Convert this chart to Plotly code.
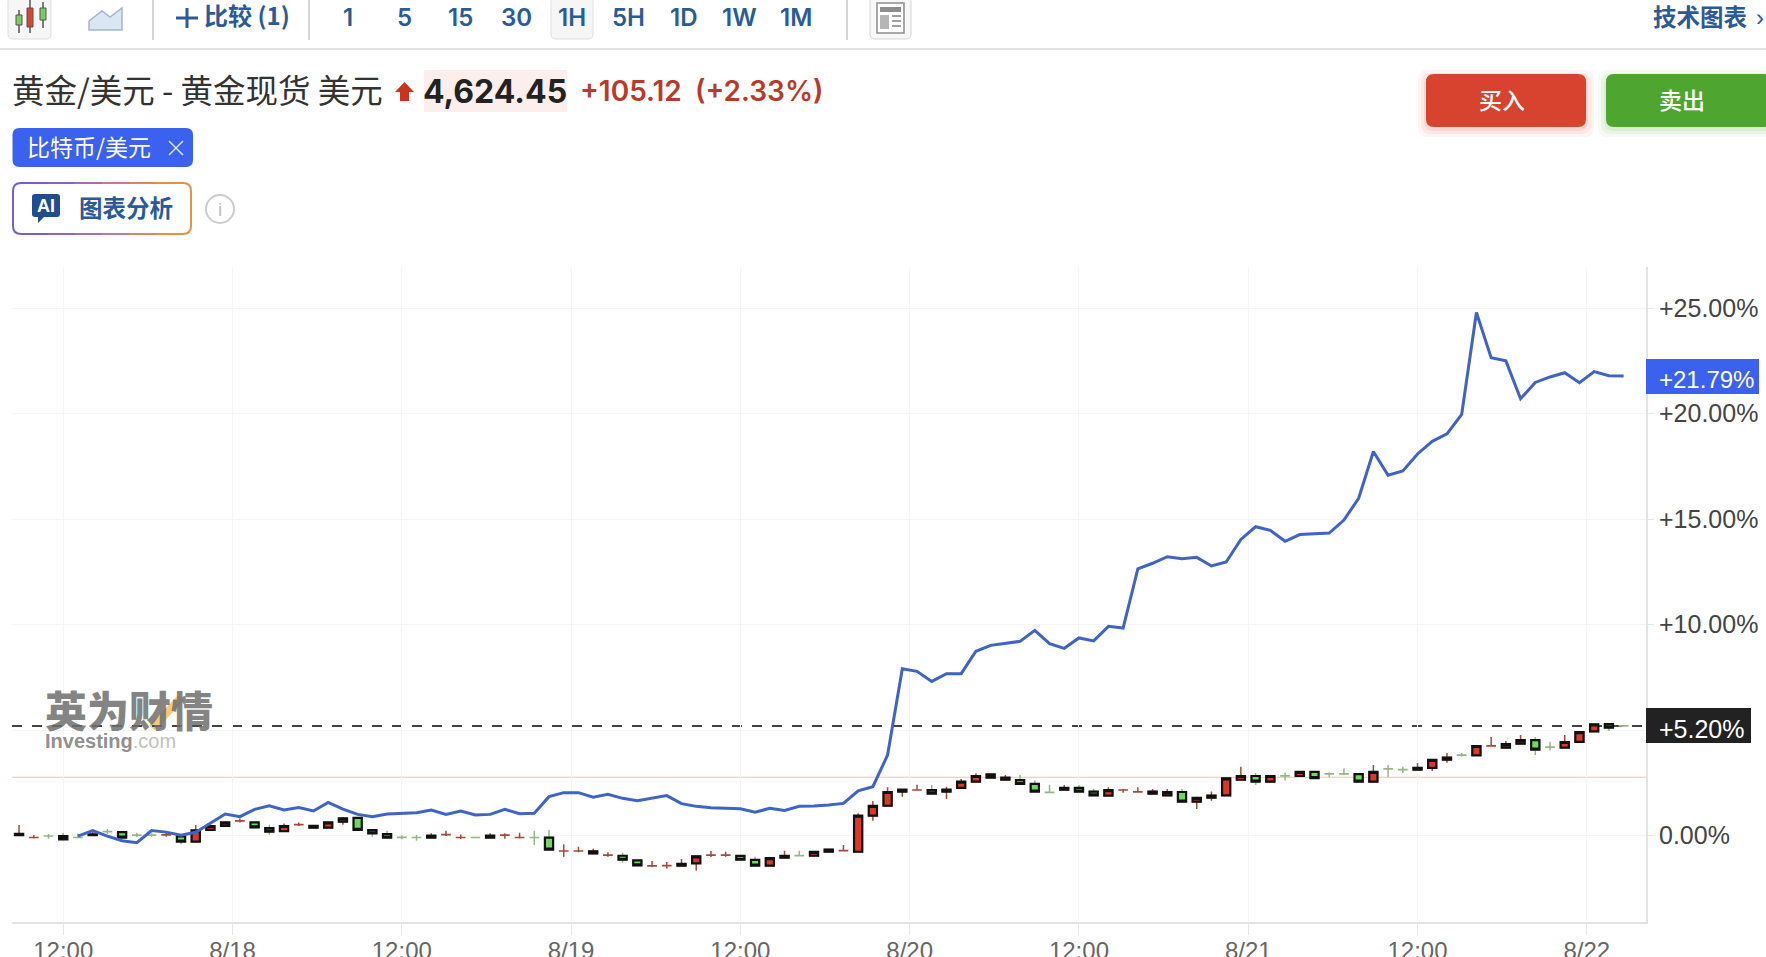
# Gold vs bitcoin 1H percent chart, with the page header around it
import plotly.graph_objects as go

W = 1766
H = 957

# gold candles in percent, one row per 10 bars
gold_open = [
    .03, -.09, -.01, -.02, -.08, .02, .20, .17, .03, .03,
    .03, -.03, -.28, .28, .47, .70, .63, .36, .21, .52,
    .38, .38, .66, .84, .27, .08, -.07, -.08, -.09, .05,
    -.09, -.08, -.09, .02, -.09, -.08, -.09, -.73, -.73, -.84,
    -.93, -.95, -1.17, -1.44, -1.42, -1.42, -1.31, -.93, -.93, -.96,
    -1.15, -1.42, -1.04, -.94, -.95, -.76, -.71, -.76, .95, 1.42,
    2.09, 2.16, 2.16, 2.09, 2.27, 2.56, 2.91, 2.65, 2.64, 2.46,
    2.06, 2.18, 2.27, 2.09, 1.90, 2.16, 2.07, 1.99, 1.91, 2.07,
    1.61, 1.80, 1.91, 2.65, 2.83, 2.56, 2.84, 2.83, 3.02, 2.93,
    2.93, 2.92, 2.56, 3.17, 3.14, 3.13, 3.21, 3.60, 3.82, 3.81,
    4.25, 4.17, 4.36, 4.53, 4.20, 4.17, 4.45, 4.94, 5.29, 5.21,
]
gold_high = [
    .51, .03, .08, .13, .10, .24, .32, .22, .14, .11,
    .21, .06, .51, .50, .68, .82, .65, .52, .58, .62,
    .50, .66, .88, .88, .30, .24, .02, .03, .11, .24,
    .06, -.07, .11, .11, .14, .24, .27, -.41, -.52, -.62,
    -.79, -.81, -1.14, -1.20, -1.25, -1.11, -.93, -.73, -.76, -.93,
    -1.00, -1.02, -.71, -.71, -.75, -.63, -.44, 1.06, 1.64, 2.29,
    2.20, 2.42, 2.40, 2.32, 2.69, 2.95, 2.93, 2.88, 2.88, 2.61,
    2.42, 2.40, 2.40, 2.21, 2.29, 2.21, 2.29, 2.21, 2.21, 2.21,
    1.84, 2.10, 2.75, 3.27, 2.97, 2.85, 3.00, 3.05, 3.05, 3.00,
    3.18, 2.95, 3.35, 3.35, 3.27, 3.44, 3.62, 3.92, 3.92, 4.27,
    4.68, 4.49, 4.77, 4.68, 4.45, 4.77, 4.93, 5.30, 5.32, 5.22,
]
gold_low = [
    .03, -.13, -.14, -.22, -.09, .02, .08, -.14, -.06, -.05,
    -.05, -.41, -.33, .25, .43, .62, .35, .05, .19, .46,
    .36, .36, .52, .25, -.05, -.14, -.17, -.24, -.09, -.02,
    -.16, -.10, -.09, -.14, -.13, -.44, -.71, -1.00, -.79, -.84,
    -1.00, -1.28, -1.45, -1.49, -1.55, -1.42, -1.66, -1.01, -1.00, -1.14,
    -1.44, -1.44, -1.05, -.95, -.95, -.76, -.71, -.76, .71, 1.42,
    1.85, 2.14, 1.96, 1.74, 2.25, 2.54, 2.72, 2.65, 2.43, 2.07,
    2.05, 2.18, 2.07, 1.89, 1.88, 2.04, 2.05, 1.99, 1.90, 1.59,
    1.26, 1.66, 1.90, 2.63, 2.40, 2.54, 2.61, 2.81, 2.70, 2.78,
    2.86, 2.54, 2.54, 2.78, 2.97, 3.13, 3.06, 3.46, 3.74, 3.79,
    4.23, 4.15, 4.34, 3.82, 4.04, 4.15, 4.43, 4.92, 4.96, 5.18,
]
gold_close = [
    .09, -.08, -.02, -.17, -.09, .06, .19, -.09, .02, .02,
    .04, -.28, .25, .46, .63, .71, .39, .19, .46, .53,
    .47, .63, .82, .28, .11, -.09, -.08, -.09, 0, .06,
    -.08, -.09, 0, .03, -.08, -.09, -.66, -.72, -.72, -.74,
    -.92, -1.14, -1.41, -1.43, -1.41, -1.33, -.98, -.92, -.92, -1.14,
    -1.42, -1.06, -.95, -.95, -.77, -.66, -.70, .95, 1.41, 2.07,
    2.18, 2.17, 1.99, 2.18, 2.56, 2.83, 2.75, 2.75, 2.46, 2.09,
    2.05, 2.27, 2.09, 1.91, 2.16, 2.17, 2.08, 2.09, 2.07, 1.61,
    1.79, 1.90, 2.72, 2.83, 2.56, 2.83, 2.83, 3.02, 2.73, 2.92,
    2.92, 2.56, 3.02, 3.16, 3.13, 3.22, 3.59, 3.70, 3.81, 4.25,
    4.26, 4.34, 4.53, 4.08, 4.19, 4.44, 4.91, 5.28, 5.12, 5.20,
]

# bitcoin line, it starts at the fifth bar
btc_pct = [
    None, None, None, None, -.02, .24, -.02, -.24, -.33, .24,
    .17, .02, .16, .58, 1.03, .90, 1.25, 1.42, 1.22, 1.34,
    1.17, 1.58, 1.26, 1.01, .90, 1.03, 1.06, 1.09, 1.22, 1.01,
    1.17, .98, 1.01, 1.25, 1.04, 1.06, 1.85, 2.04, 2.04, 1.82,
    1.96, 1.77, 1.66, 1.77, 1.90, 1.52, 1.39, 1.33, 1.30, 1.28,
    1.11, 1.30, 1.20, 1.39, 1.41, 1.45, 1.53, 2.13, 2.32, 3.82,
    7.91, 7.79, 7.31, 7.68, 7.68, 8.74, 9.02, 9.13, 9.21, 9.73,
    9.10, 8.88, 9.37, 9.23, 9.92, 9.84, 12.64, 12.91, 13.22, 13.13,
    13.19, 12.78, 12.97, 14.04, 14.64, 14.47, 13.95, 14.27, 14.31, 14.34,
    14.96, 15.99, 18.21, 17.08, 17.28, 18.09, 18.69, 19.04, 19.97, 24.79,
    22.65, 22.50, 20.71, 21.48, 21.74, 21.94, 21.47, 21.99, 21.80, 21.79,
]

x_tick_pos = [3, 14.5, 26, 37.5, 49, 60.5, 72, 83.5, 95, 106.5]
x_tick_text = ['12:00', '8/18', '12:00', '8/19', '12:00', '8/20', '12:00', '8/21', '12:00', '8/22']
y_tick_pos = [0, 5, 10, 15, 20, 25]
y_tick_text = ['0.00%', '', '+10.00%', '+15.00%', '+20.00%', '+25.00%']
periods = ['1', '5', '15', '30', '1H', '5H', '1D', '1W', '1M']
period_x = [348, 404, 460, 516, 572, 628, 683, 739, 796]

gold_last = 5.20
btc_last = 21.79
ref_level = 2.77

BLUE_TXT = '#2b5b96'
CJK = '"Noto Sans CJK SC", "Liberation Sans", sans-serif'
NUM = 'Inter, "Noto Sans CJK SC", sans-serif'
AXIS = '"Liberation Sans", sans-serif'

bars = list(range(len(gold_open)))
# real bodies get the black frame, the near-flat ones stay as a thin cross
body = [i for i in bars if abs(gold_close[i] - gold_open[i]) >= 0.03]


def fx(x):
    return x / W


def fy(y):
    return 1 - y / H


def rounded(x0, y0, x1, y1, r):
    pts = [('M', x0 + r, y0), ('L', x1 - r, y0), ('Q', x1, y0, x1, y0 + r), ('L', x1, y1 - r),
           ('Q', x1, y1, x1 - r, y1), ('L', x0 + r, y1), ('Q', x0, y1, x0, y1 - r),
           ('L', x0, y0 + r), ('Q', x0, y0, x0 + r, y0)]
    return poly_path(pts) + ' Z'


def poly_path(pts):
    out = []
    for p in pts:
        nums = p[1:]
        xy = [f'{fx(nums[k]):.5f},{fy(nums[k + 1]):.5f}' for k in range(0, len(nums), 2)]
        out.append(p[0] + ' '.join(xy))
    return ' '.join(out)


shapes = []
notes = []


def box(x0, y0, x1, y1, fill, line=None, r=0, width=1, opacity=1):
    shapes.append(dict(type='path', xref='paper', yref='paper', path=rounded(x0, y0, x1, y1, r) if r else
                       poly_path([('M', x0, y0), ('L', x1, y0), ('L', x1, y1), ('L', x0, y1)]) + ' Z',
                       fillcolor=fill, opacity=opacity,
                       line=dict(color=line or 'rgba(0,0,0,0)', width=width if line else 0)))


def seg(x0, y0, x1, y1, color, width=1):
    shapes.append(dict(type='line', xref='paper', yref='paper', x0=fx(x0), y0=fy(y0), x1=fx(x1), y1=fy(y1),
                       line=dict(color=color, width=width)))


def label(x, y, text, size, color, family=CJK, weight=400, anchor='center'):
    notes.append(dict(xref='paper', yref='paper', x=fx(x), y=fy(y), text=text, showarrow=False,
                      xanchor=anchor, yanchor='middle', borderpad=0,
                      font=dict(size=size, color=color, family=family, weight=weight)))


# toolbar
box(8, -3, 51, 39, '#f6f6f6', '#dedede', r=5)
for wx, wy0, wy1, by0, by1, col in [(19, 10, 33, 15, 25, '#7ccb5f'), (30, 0, 33, 8, 27, '#d9452f'),
                                    (43, 2, 28, 8, 20, '#7ccb5f')]:
    seg(wx, wy0, wx, wy1, '#555555', 1.5)
    box(wx - 3, by0, wx + 3, by1, col, '#555555', width=1)
shapes.append(dict(type='path', xref='paper', yref='paper', fillcolor='#dbe6f3',
                   line=dict(color='#a3b5cc', width=1.5),
                   path=poly_path([('M', 89, 21), ('L', 102, 11), ('L', 110, 17), ('L', 122, 8),
                                   ('L', 122, 30), ('L', 89, 30)]) + ' Z'))
for sx in [153, 309, 847]:
    seg(sx, 0, sx, 40, '#c9c9c9', 1.5)
seg(187, 8, 187, 28, BLUE_TXT, 3)
seg(176, 18, 198, 18, BLUE_TXT, 3)
label(247, 15, '比较 (1)', 24, BLUE_TXT, weight=600)
box(551, -3, 593, 39, '#f6f6f6', '#dedede', r=5)
for name, px_x in zip(periods, period_x):
    label(px_x, 17, name, 24, BLUE_TXT, family=NUM, weight=600)
box(870, -3, 911, 39, '#f8f8f8', '#d5d5d5', r=5)
box(877, 3, 904, 33, '#ffffff', '#8d8d8d', width=1.5)
box(880, 7, 901, 12, '#8d8d8d')
box(880, 15, 889, 29, '#b5b5b5')
for ly in [16, 21, 26]:
    seg(892, ly, 901, ly, '#a0a0a0', 2)
label(1700, 16, '技术图表', 23.5, BLUE_TXT, weight=700)
label(1760, 17, '›', 24, BLUE_TXT, family=AXIS)
seg(0, 49, W, 49, '#e3e3e3', 2)

# title row
label(11, 88, '黄金/美元 - 黄金现货 美元', 32.5, '#333333', anchor='left')
shapes.append(dict(type='path', xref='paper', yref='paper', fillcolor='#c9341f', line=dict(width=0),
                   path=poly_path([('M', 404.5, 82), ('L', 414, 92), ('L', 409, 92), ('L', 409, 101),
                                   ('L', 400, 101), ('L', 400, 92), ('L', 395, 92)]) + ' Z'))
box(424, 70, 567, 112, '#fbeeec')
label(495, 92, '4,624.45', 32, '#222222', family=NUM, weight=700)
label(579, 91, '+105.12', 28, '#b93a2b', family=NUM, weight=600, anchor='left')
label(694, 91, '(+2.33%)', 28, '#b93a2b', family=NUM, weight=600, anchor='left')

# buy and sell, with a soft glow under them
for bx0, bx1, col, name in [(1426, 1586, '#d84330', '买入'), (1606, 1772, '#4ea52f', '卖出')]:
    for grow, alpha in [(10, .05), (7, .07), (4, .09)]:
        box(bx0 - grow + 2, 74 + 6 - grow, bx1 + grow - 2, 127 + grow, col, r=10, opacity=alpha)
    box(bx0, 74, bx1, 127, col, r=8)
    label((bx0 + min(bx1, 1766)) / 2 - 4, 99, name, 23, '#ffffff', weight=500)

# compare tag
box(12.5, 128, 193, 167, '#3a62ee', r=7)
label(89, 146, '比特币/美元', 23, '#ffffff')
seg(169, 141, 183, 155, '#dfe6fd', 1.5)
seg(169, 155, 183, 141, '#dfe6fd', 1.5)

# AI button, the frame fades from purple to orange
box(13, 183, 191, 234, '#ffffff', r=8)
frame_cols = ['#7a5bd0', '#8f63c4', '#a86db0', '#c47a92', '#d98668', '#e89040']
for k, col in enumerate(frame_cols):
    xa = 21 + k * 27
    xb = xa + 27
    seg(xa, 183, xb, 183, col, 2)
    seg(xa, 234, xb, 234, col, 2)
shapes.append(dict(type='path', xref='paper', yref='paper', line=dict(color=frame_cols[0], width=2),
                   path=poly_path([('M', 21, 183), ('Q', 13, 183, 13, 191), ('L', 13, 226), ('Q', 13, 234, 21, 234)])))
shapes.append(dict(type='path', xref='paper', yref='paper', line=dict(color=frame_cols[-1], width=2),
                   path=poly_path([('M', 183, 183), ('Q', 191, 183, 191, 191), ('L', 191, 226), ('Q', 191, 234, 183, 234)])))
shapes.append(dict(type='path', xref='paper', yref='paper', fillcolor='#1f4e8f', line=dict(width=0),
                   path=poly_path([('M', 35, 194), ('L', 57, 194), ('Q', 60, 194, 60, 197), ('L', 60, 214),
                                   ('Q', 60, 217, 57, 217), ('L', 44, 217), ('L', 38, 223), ('L', 38, 217),
                                   ('L', 35, 217), ('Q', 32, 217, 32, 214), ('L', 32, 197),
                                   ('Q', 32, 194, 35, 194)]) + ' Z'))
label(46, 206, 'AI', 18, '#ffffff', family=AXIS, weight=700)
label(126, 207, '图表分析', 23.5, BLUE_TXT, weight=700)
shapes.append(dict(type='circle', xref='paper', yref='paper', x0=fx(206), x1=fx(234), y0=fy(195), y1=fy(223),
                   line=dict(color='#cccccc', width=2)))
label(220, 209, 'i', 19, '#bbbbbb', family=AXIS)

# watermark
shapes.append(dict(type='line', xref='paper', yref='paper', x0=fx(152), y0=fy(728), x1=fx(181), y1=fy(698),
                   line=dict(color='#f6c877', width=8), layer='below'))
label(44, 708, '英为财情', 42, 'rgba(110,110,110,0.85)', weight=900, anchor='left')
label(44, 741, '<b>Investing</b><span style="color:#b8b8b8">.com</span>', 20, 'rgba(130,130,130,0.9)',
      family=AXIS, anchor='left')

# level lines on the y scale
shapes.append(dict(type='line', xref='x domain', yref='y', x0=0, x1=1, y0=ref_level, y1=ref_level,
                   line=dict(color='#f4c0b8', width=1), layer='below'))
shapes.append(dict(type='line', xref='x domain', yref='y', x0=0, x1=1, y0=gold_last, y1=gold_last,
                   line=dict(color='#444444', width=2, dash='10px,10px'), layer='below'))

# last value flags
box(1646, 359, 1759, 394, '#3a62ee')
label(1658, 379, f'+{btc_last:.2f}%', 24, '#ffffff', family=AXIS, anchor='left')
box(1646, 708, 1751, 743, '#222222')
label(1658, 729, f'+{gold_last:.2f}%', 25, '#ffffff', family=AXIS, anchor='left')

wicks = go.Candlestick(x=bars, open=gold_open, high=gold_high, low=gold_low, close=gold_close,
                       increasing=dict(line=dict(color='#a5493a', width=1.5), fillcolor='#a5493a'),
                       decreasing=dict(line=dict(color='#97b688', width=1.5), fillcolor='#97b688'),
                       showlegend=False, hoverinfo='skip')
bodies = go.Candlestick(x=body,
                        open=[gold_open[i] for i in body],
                        high=[max(gold_open[i], gold_close[i]) for i in body],
                        low=[min(gold_open[i], gold_close[i]) for i in body],
                        close=[gold_close[i] for i in body],
                        increasing=dict(line=dict(color='#111111', width=2.2), fillcolor='#d9382a'),
                        decreasing=dict(line=dict(color='#111111', width=2.2), fillcolor='#6fd85f'),
                        showlegend=False, hoverinfo='skip')
btc = go.Scatter(x=bars, y=btc_pct, mode='lines', line=dict(color='#3f63c6', width=3),
                 showlegend=False, hoverinfo='skip')

layout = go.Layout(
    width=W, height=H, margin=dict(l=0, r=0, t=0, b=0, autoexpand=False), autosize=False,
    paper_bgcolor='#ffffff', plot_bgcolor='#ffffff', boxmode='overlay', boxgap=0.2,
    xaxis=dict(domain=[fx(12), fx(1646)], range=[-0.48, 110.52], rangeslider=dict(visible=False),
               tickmode='array', tickvals=x_tick_pos, ticktext=x_tick_text, ticks='outside', ticklen=11,
               tickcolor='#e6e6e6', tickwidth=1, showgrid=True, gridcolor='#f5f5f5', gridwidth=1,
               showline=True, linecolor='#e3e3e3', linewidth=2, zeroline=False, automargin=False,
               ticklabelstandoff=-5,
               tickfont=dict(family=AXIS, size=24, color='#666666')),
    yaxis=dict(domain=[fy(922), fy(267)], range=[-4.09, 26.95], side='right', anchor='x',
               tickmode='array', tickvals=y_tick_pos, ticktext=y_tick_text, ticks='outside', ticklen=6,
               tickcolor='#e6e6e6', tickwidth=1, showgrid=True, gridcolor='#f5f5f5', gridwidth=1,
               showline=True, linecolor='#e3e3e3', linewidth=2, zeroline=False, automargin=False,
               tickfont=dict(family=AXIS, size=25, color='#444444')),
    shapes=shapes, annotations=notes, showlegend=False,
)

fig = go.Figure(data=[wicks, bodies, btc], layout=layout)
fig.write_html('out.html', config={'displayModeBar': False},
               post_script="document.body.style.margin='0';document.body.style.overflow='hidden';")
